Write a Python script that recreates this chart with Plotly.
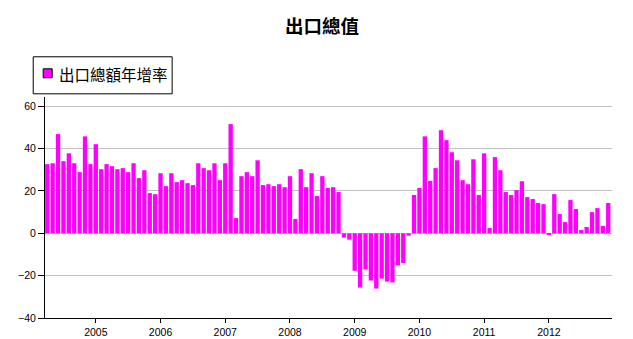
import plotly.graph_objects as go

# Monthly export growth, April 2004 – December 2012 (percent, year on year)
start_year, start_month = 2004, 4
growth = [
    # 2004 (Apr–Dec)
    32.7, 33.1, 46.9, 34.1, 37.8, 33.1, 28.9, 45.8, 32.7,
    # 2005
    42.1, 30.3, 32.7, 31.7, 30.3, 30.8, 28.9, 33.1, 26.1, 29.8, 19.0, 18.5,
    # 2006
    28.4, 22.3, 28.4, 24.2, 25.1, 23.7, 22.8, 33.1, 30.8, 29.8, 33.1, 25.1,
    # 2007
    33.1, 51.6, 7.2, 27.0, 28.9, 27.0, 34.5, 22.8, 23.2, 22.3, 23.2, 21.8,
    # 2008
    27.0, 6.8, 30.3, 21.8, 28.4, 17.6, 27.0, 21.4, 21.8, 19.5, -2.0, -3.0,
    # 2009
    -17.7, -25.6, -17.1, -22.3, -26.1, -21.4, -22.8, -23.2, -15.2, -14.0, -1.1, 18.1,
    # 2010
    21.4, 45.8, 24.8, 30.8, 48.7, 44.0, 38.3, 34.5, 25.1, 23.2, 35.0, 18.1,
    # 2011
    37.8, 2.5, 36.0, 29.8, 19.5, 18.1, 20.4, 24.6, 17.1, 16.2, 14.3, 13.8,
    # 2012
    -0.6, 18.5, 9.1, 5.3, 15.7, 11.5, 1.6, 3.0, 10.0, 11.9, 3.5, 14.3,
]

months = []
y, m = start_year, start_month
for _ in growth:
    months.append(f"{y}-{m:02d}")
    m += 1
    if m > 12:
        y, m = y + 1, 1

year_labels = ["2005", "2006", "2007", "2008", "2009", "2010", "2011", "2012"]
year_ticks = [f"{yr}-01" for yr in year_labels]
y_ticks = [-40, -20, 0, 20, 40, 60]

series_name = "出口總額年增率"
chart_title = "出口總值"
bar_color = "#FF00FF"

W, H = 633, 339
ML, MR, MT, MB = 45.3, 20.5, 96.7, 21.4
PW, PH = W - ML - MR, H - MT - MB


def px_x(px):
    return (px - ML) / PW


def px_y(py):
    return (H - MB - py) / PH


fig = go.Figure()
fig.add_trace(go.Bar(
    x=months,
    y=growth,
    name=series_name,
    marker=dict(color=bar_color, line=dict(width=0)),
    showlegend=False,
))

# Boxed legend in the upper left
fig.add_shape(type="rect", xref="paper", yref="paper",
              x0=px_x(33.5), x1=px_x(172.5), y0=px_y(93.5), y1=px_y(56.5),
              line=dict(color="black", width=1), fillcolor="white", layer="above")
fig.add_shape(type="rect", xref="paper", yref="paper",
              x0=px_x(43.5), x1=px_x(52.5), y0=px_y(77.5), y1=px_y(68.5),
              line=dict(color="black", width=1), fillcolor=bar_color, layer="above")
fig.add_annotation(xref="paper", yref="paper", x=px_x(57), y=px_y(73.5),
                   xanchor="left", yanchor="middle", showarrow=False,
                   text=series_name,
                   font=dict(family="Noto Sans CJK TC", size=15.5, color="black"))

fig.update_layout(
    template="none",
    width=W, height=H,
    margin=dict(l=ML, r=MR, t=MT, b=MB, pad=0, autoexpand=False),
    paper_bgcolor="white", plot_bgcolor="white",
    bargap=0.2,
    title=dict(text=f"<b>{chart_title}</b>", x=322 / W, y=1 - 26.5 / H,
               xanchor="center", yanchor="middle",
               font=dict(family="Noto Sans CJK TC", size=18.5, color="black")),
    xaxis=dict(
        type="category", automargin=False,
        categoryorder="array", categoryarray=months,
        range=[-0.42, len(months) - 0.3],
        tickmode="array", tickvals=year_ticks, ticktext=year_labels,
        showgrid=False, zeroline=False,
        showline=True, linecolor="black", linewidth=1,
        ticks="outside", ticklen=4, tickcolor="black", tickwidth=1,
        tickfont=dict(family="Liberation Sans", size=10.5, color="black"),
    ),
    yaxis=dict(
        automargin=False,
        range=[-40, 64.4],
        tickmode="array", tickvals=y_ticks,
        showgrid=True, gridcolor="#c0c0c0", gridwidth=1,
        zeroline=False,
        showline=True, linecolor="black", linewidth=1,
        ticks="outside", ticklen=6, tickcolor="black", tickwidth=1,
        tickfont=dict(family="Liberation Sans", size=10.5, color="black"),
    ),
)

fig.write_html("out.html")
